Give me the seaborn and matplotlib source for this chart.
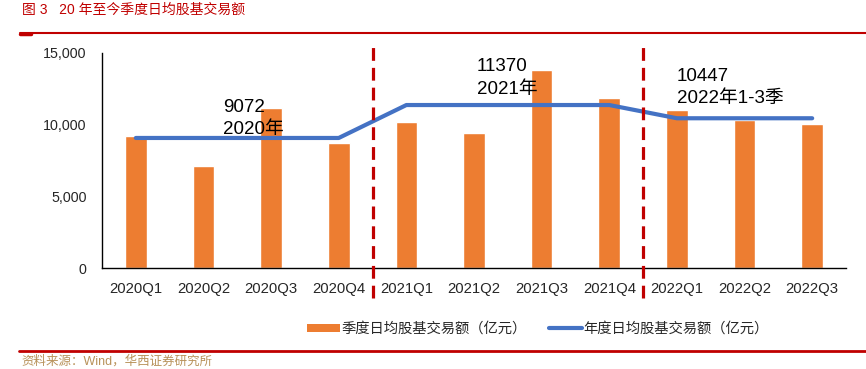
import numpy as np
import pandas as pd
import seaborn as sns
import matplotlib.pyplot as plt
from matplotlib.lines import Line2D
from matplotlib.patches import Patch

# quarterly values, annual averages
quarters = ['2020Q1', '2020Q2', '2020Q3', '2020Q4', '2021Q1', '2021Q2',
            '2021Q3', '2021Q4', '2022Q1', '2022Q2', '2022Q3']
quarterly = [9180, 7090, 11180, 8700, 10210, 9440, 13830, 11880, 11000, 10300, 10070]
annual = [9072, 9072, 9072, 9072, 11370, 11370, 11370, 11370, 10447, 10447, 10447]
year_labels = ['9072\n2020年', '11370\n2021年', '10447\n2022年1-3季']
year_label_pos = [1.29, 5.04, 8.0]
year_label_y = [10450, 13250, 12580]
split_pos = [3.5, 7.5]

sns.set_theme(style="white")
plt.rcParams['font.family'] = ['Liberation Sans', 'Noto Sans CJK SC']

ORANGE = '#ED7D31'
BLUE = '#4472C4'
RED = '#C00000'

df = pd.DataFrame({'quarter': quarters, 'value': quarterly,
                   'annual': annual, 'pos': np.arange(len(quarters))})

fig = plt.figure(figsize=(8.66, 3.69), dpi=100)
ax = fig.add_axes([102 / 866, 1 - 268 / 369, 744 / 866, 215 / 369])

sns.barplot(data=df, x='pos', y='value', color=ORANGE, width=0.32,
            saturation=1, ax=ax)
sns.lineplot(data=df, x='pos', y='annual', color=BLUE, linewidth=3,
             sort=False, ax=ax)

ax.set_xlim(-0.5, len(quarters) - 0.5)
ax.set_ylim(0, 15000)
ax.set_yticks([0, 5000, 10000, 15000])
ax.set_yticklabels(['0', '5,000', '10,000', '15,000'], fontsize=10.3, color='#262626')
ax.set_xticks(np.arange(len(quarters)))
ax.set_xticklabels(quarters, fontsize=10.7, color='#262626')
ax.tick_params(axis='y', length=0, pad=11)
ax.tick_params(axis='x', length=0, pad=10)
ax.set_xlabel('')
ax.set_ylabel('')
for s in ['top', 'right']:
    ax.spines[s].set_visible(False)
for s in ['left', 'bottom']:
    ax.spines[s].set_color('black')
    ax.spines[s].set_linewidth(1.0)

for p in split_pos:
    ax.plot([p, p], [-0.14, 1.04], transform=ax.get_xaxis_transform(),
            color=RED, linewidth=2.3, dashes=(4, 2.2), clip_on=False, zorder=5)

for txt, x, y in zip(year_labels, year_label_pos, year_label_y):
    ax.text(x, y, txt, fontsize=13.5, color='black', va='center', ha='left',
            linespacing=1.4)

handles = [Patch(facecolor=ORANGE, edgecolor='none'),
           Line2D([0], [0], color=BLUE, linewidth=3)]
fig.legend(handles, ['季度日均股基交易额（亿元）', '年度日均股基交易额（亿元）'],
           loc='center', bbox_to_anchor=(538 / 866, 1 - 329 / 369), ncol=2,
           frameon=False, fontsize=10.3, handlelength=2.3, handleheight=0.55,
           handletextpad=0.1, columnspacing=1.6)

# title, rules and source line
fig.text(22 / 866, 1 - 10 / 369, '图 3   20 年至今季度日均股基交易额',
         color=RED, fontsize=10, va='center', ha='left')
fig.add_artist(Line2D([20 / 866, 1], [1 - 33 / 369] * 2, color=RED, linewidth=1.5))
fig.add_artist(Line2D([20 / 866, 31 / 866], [1 - 33.5 / 369] * 2, color=RED, linewidth=2.5))
fig.add_artist(Line2D([19 / 866, 1], [1 - 351 / 369] * 2, color=RED, linewidth=2))
fig.text(21 / 866, 1 - 361 / 369, '资料来源：Wind，华西证券研究所',
         color='#B8925A', fontsize=9, va='center', ha='left')

fig.savefig('out.png', dpi=100)
